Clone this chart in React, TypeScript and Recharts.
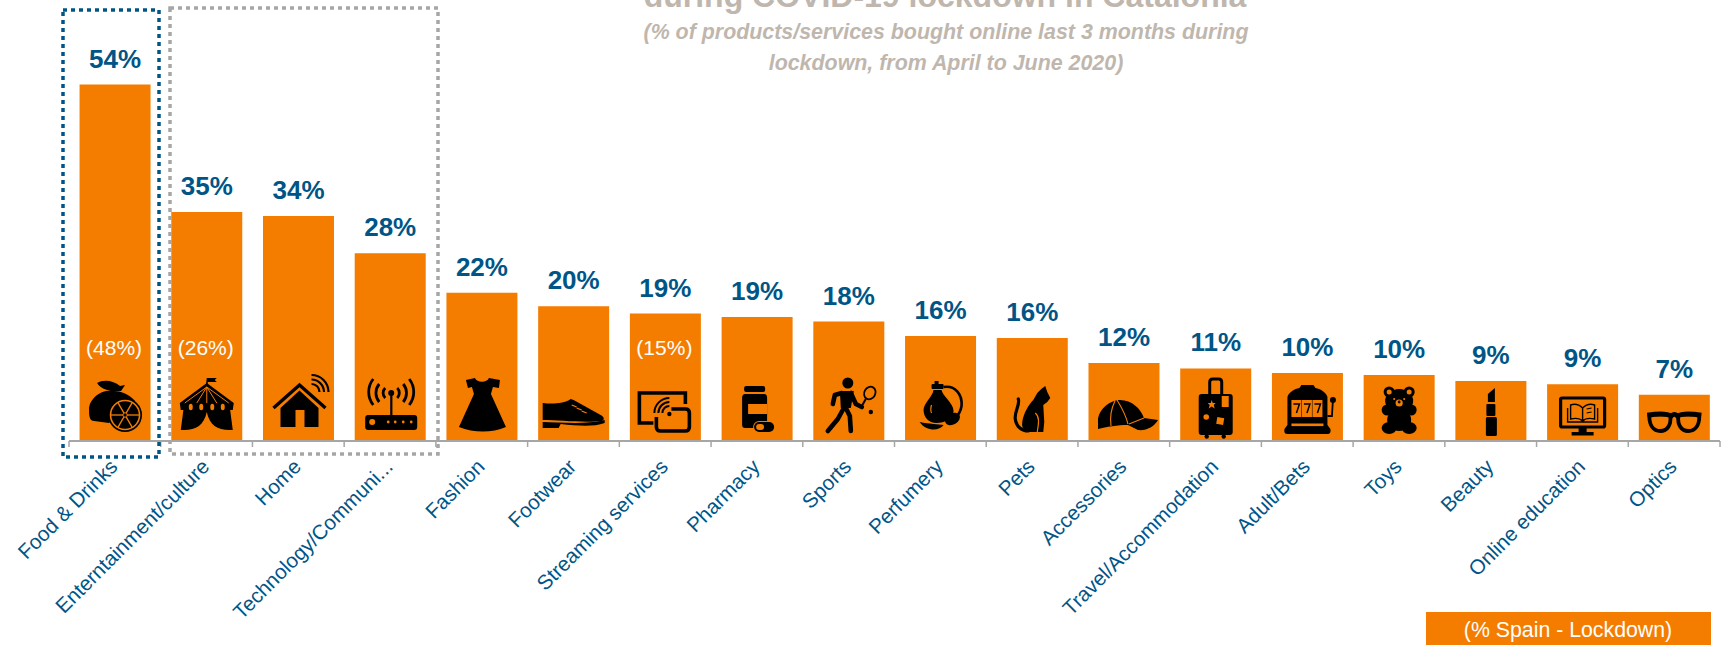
import React from "react";
import { BarChart, Bar, XAxis, YAxis, LabelList, Rectangle } from "recharts";

const categories = [
  "Food & Drinks", "Enterntainment/culture", "Home", "Technology/Communi...", "Fashion", "Footwear",
  "Streaming services", "Pharmacy", "Sports", "Perfumery", "Pets", "Accessories",
  "Travel/Accommodation", "Adult/Bets", "Toys", "Beauty", "Online education", "Optics",
];
const cataloniaLockdown = [54, 34.7, 34.1, 28.45, 22.45, 20.4, 19.3, 18.8, 18.1, 15.9, 15.6, 11.8, 11, 10.3, 10, 9.1, 8.6, 7];
const spainLockdown: (number | null)[] = [48, 26, null, null, null, null, 15, null, null, null, null, null, null, null, null, null, null, null];
const titleLine = "during COVID-19 lockdown in Catalonia";
const subtitleLines = [
  "(% of products/services bought online last 3 months during",
  "lockdown, from April to June 2020)",
];
const legendLabel = "(% Spain - Lockdown)";

const rows = categories.map((name, i) => ({ name, catalonia: cataloniaLockdown[i], spain: spainLockdown[i] }));

const ORANGE = "#F47D00";
const BLUE = "#005587";
const INK = "#000";
const FONT = "'Liberation Sans', Arial, sans-serif";

// Pictograms, drawn around the bar's centre line with y = 0 on the axis.
const lemons = () => (
  <g>
    <path d="M-9 -50 C-19 -48 -27 -39 -26 -30 C-26 -24 -25 -20 -21 -20 L-6 -18 L20 -40 C14 -47 5 -51 -9 -50Z" fill={INK} />
    <path d="M-18 -58 C-11 -62 -1 -60 5 -55 L10 -56 L6 -50 C-1 -49 -13 -50 -18 -58Z" fill={INK} />
    <circle cx={10} cy={-26} r={17} fill={INK} />
    <circle cx={10} cy={-26} r={14.5} fill={INK} stroke={ORANGE} strokeWidth={1.6} />
    {[0, 60, 120].map((a) => (
      <line key={a} x1={10 - 14 * Math.cos((a * Math.PI) / 180)} y1={-26 - 14 * Math.sin((a * Math.PI) / 180)} x2={10 + 14 * Math.cos((a * Math.PI) / 180)} y2={-26 + 14 * Math.sin((a * Math.PI) / 180)} stroke={ORANGE} strokeWidth={1.3} />
    ))}
    <circle cx={10} cy={-26} r={2.2} fill={INK} stroke={ORANGE} strokeWidth={1} />
  </g>
);
const tent = () => (
  <g>
    <path d="M0 -63 L10 -63 L8 -61 L10 -59 L1 -59 L1 -55 L-1 -55Z" fill={INK} />
    <path d="M0 -58 L-27 -38 L-26 -31 L26 -31 L27 -38Z" fill={INK} />
    <path d="M-23 -34 L-26 -11 C-12 -10 -3 -15 0 -29 C3 -15 12 -10 26 -11 L23 -34Z" fill={INK} />
    <path d="M0 -54 L-22 -38 M0 -54 L-10 -38 M0 -54 L0 -38 M0 -54 L10 -38 M0 -54 L22 -38" stroke={ORANGE} strokeWidth={1} />
    {[-16, -5.5, 5.5, 16].map((x) => (
      <ellipse key={x} cx={x} cy={-34} rx={2} ry={3.2} fill={ORANGE} />
    ))}
  </g>
);
const house = () => (
  <g>
    <path d="M-25 -33 L1 -56 L27 -33" fill="none" stroke={INK} strokeWidth={3.4} />
    <path d="M1 -50.5 L-18 -33 L-18 -14 L-3 -14 L-3 -31 L6 -31 L6 -14 L20 -14 L20 -33Z" fill={INK} />
    <path d="M13 -57 A8 8 0 0 1 21 -49 M13 -61.5 A12.5 12.5 0 0 1 25.5 -49 M13 -66 A17 17 0 0 1 30 -49" fill="none" stroke={INK} strokeWidth={2.2} />
  </g>
);
const router = () => (
  <g>
    <rect x={-25} y={-26} width={52} height={15} rx={3} fill={INK} />
    <circle cx={-18} cy={-19} r={3} fill={ORANGE} />
    {[-2, 5, 13, 21].map((x) => (
      <circle key={x} cx={x} cy={-19} r={1.4} fill={ORANGE} />
    ))}
    <rect x={0} y={-48} width={2.2} height={23} fill={INK} />
    <circle cx={1} cy={-48} r={3} fill={INK} />
    <path d="M-5 -53 A7 7 0 0 0 -5 -43 M7 -53 A7 7 0 0 1 7 -43 M-11 -57 A14 14 0 0 0 -11 -39 M13 -57 A14 14 0 0 1 13 -39 M-17 -62 A21 21 0 0 0 -17 -36 M19 -62 A21 21 0 0 1 19 -36" fill="none" stroke={INK} strokeWidth={2.8} />
  </g>
);
const dress = () => (
  <path d="M-16 -61 L-7 -63 C-5 -58 5 -58 7 -63 L18 -61 L17 -53 L11 -54 L9 -47 L24 -14 C10 -8 -8 -8 -23 -14 L-8 -47 L-10 -54 L-14 -53Z" fill={INK} />
);
const shoe = () => (
  <g>
    <path d="M-31 -38 C-22 -37 -10 -37 -3 -42 L0 -41 L27 -26 C31 -24 31 -21 28 -20 C10 -18 -15 -21 -31 -21Z" fill={INK} />
    <path d="M-31 -19 C-15 -19 10 -16 31 -21 L31 -18 C20 -14 5 -15 -13 -17 L-15 -13 L-31 -13Z" fill={INK} />
    <path d="M-2 -36 L3 -34 M3 -33 L8 -31 M8 -30 L13 -28" stroke={ORANGE} strokeWidth={1.3} />
  </g>
);
const streaming = () => (
  <g fill="none" stroke={INK} strokeWidth={3.6}>
    <path d="M-12 -18 L-26 -18 L-26 -48 L20 -48 L20 -37" />
    <path d="M6 -32 L20 -32 Q24 -32 24 -28 L24 -14 Q24 -10 20 -10 L-5 -10 Q-9 -10 -9 -14 L-9 -24" />
    <path d="M-3 -28 A7 7 0 0 1 4 -35 M-7 -28 A11 11 0 0 1 4 -39" strokeWidth={2} />
    <path d="M-11 -28 A15 15 0 0 1 4 -43" strokeWidth={2} />
    <circle cx={4} cy={-27} r={2.2} fill={INK} stroke="none" />
  </g>
);
const pills = () => (
  <g>
    <rect x={-13} y={-55} width={21} height={6} rx={2} fill={INK} />
    <path d="M-12 -47 L7 -47 Q10 -47 10 -43 L10 -13 L-12 -13 Q-15 -13 -15 -16 L-15 -43 Q-15 -47 -12 -47Z" fill={INK} />
    <rect x={-9} y={-37} width={19} height={10} fill={ORANGE} />
    <rect x={-4} y={-20} width={22} height={12} rx={6} fill={ORANGE} />
    <rect x={-3} y={-19} width={20} height={10} rx={5} fill={INK} />
    <rect x={-1} y={-17} width={8} height={6} rx={3} fill={ORANGE} />
  </g>
);
const tennis = () => (
  <g>
    <circle cx={-1} cy={-58} r={5.5} fill={INK} />
    <path d="M-9 -50 L5 -50 L2 -33 L-8 -33Z" fill={INK} />
    <path d="M-7 -48 L-14 -46 L-16 -37 M2 -48 L7 -37 L13 -34 M-5 -33 L-11 -22 L-21 -10 M-3 -33 L1 -25 L2 -10" fill="none" stroke={INK} strokeWidth={4.6} strokeLinecap="round" strokeLinejoin="round" />
    <ellipse cx={21} cy={-48} rx={5.5} ry={6.5} transform="rotate(30 21 -48)" fill="none" stroke={INK} strokeWidth={1.8} />
    <path d="M17 -42 L13 -35" stroke={INK} strokeWidth={2} />
    <circle cx={22} cy={-29} r={2.2} fill={INK} />
  </g>
);
const perfume = () => (
  <g>
    <rect x={-9} y={-57} width={12} height={5} rx={1} fill={INK} />
    <rect x={-6} y={-60} width={4} height={4} fill={INK} />
    <path d="M-7 -51 L1 -51 C2 -45 13 -38 13 -30 C13 -22 4 -18 -4 -18 C-12 -18 -17 -24 -17 -31 C-17 -38 -8 -44 -7 -51Z" fill={INK} />
    <path d="M-9 -36 C-10 -33 -10 -30 -9 -28" stroke={ORANGE} strokeWidth={1.2} fill="none" />
    <path d="M3 -54 C15 -56 22 -46 21 -35 C20 -29 17 -25 14 -23" fill="none" stroke={INK} strokeWidth={2.6} />
    <ellipse cx={12} cy={-22} rx={8} ry={5.5} transform="rotate(-30 12 -22)" fill={INK} />
    <path d="M-21 -19 C-11 -17 -2 -17 3 -16 C-1 -10 -14 -9 -21 -19Z" fill={INK} />
  </g>
);
const cat = () => (
  <g>
    <path d="M5 -48 L9 -52 L13 -55 L15 -49 L18 -43 L15 -39 L11 -36 L12 -19 L11 -9 L-2 -9 C-8 -9 -11 -13 -10 -19 C-9 -27 -4 -36 1 -41Z" fill={INK} />
    <path d="M-14 -42 C-12 -36 -18 -30 -17 -22 C-16 -14 -10 -10 -4 -10" fill="none" stroke={INK} strokeWidth={3.2} strokeLinecap="round" />
    <path d="M3 -28 C8 -24 6 -16 5 -9" fill="none" stroke={ORANGE} strokeWidth={1.2} />
  </g>
);
const cap = () => (
  <g>
    <path d="M-26 -12 L-26 -22 C-24 -34 -12 -41 -4 -41 C8 -41 17 -32 20 -23 L34 -21 C30 -14 22 -10 14 -11 L4 -16 C-6 -16 -18 -14 -26 -12Z" fill={INK} />
    <path d="M-9 -40 C-13 -32 -14 -22 -13 -15 M-7 -41 C-2 -33 2 -25 4 -17 M5 -17 L20 -23" fill="none" stroke={ORANGE} strokeWidth={1.1} />
  </g>
);
const suitcase = () => (
  <g>
    <path d="M-6 -47 L-6 -59 Q-6 -62 -3 -62 L3 -62 Q6 -62 6 -59 L6 -47" fill="none" stroke={INK} strokeWidth={3} />
    <rect x={-17} y={-47} width={34} height={41} rx={3} fill={INK} />
    <circle cx={-9} cy={-4.5} r={2.2} fill={INK} />
    <circle cx={8} cy={-4.5} r={2.2} fill={INK} />
    <rect x={6} y={-45} width={7} height={11} fill={ORANGE} />
    <path d="M-4 -41 L-3 -38 L0 -38 L-2 -36 L-1 -32.5 L-4 -34.5 L-7 -32.5 L-6 -36 L-8 -38 L-5 -38Z" fill={ORANGE} />
    <circle cx={-9.5} cy={-24} r={2.8} fill={ORANGE} />
    <rect x={1} y={-23.5} width={7} height={7} transform="rotate(10 4.5 -20)" fill={ORANGE} />
  </g>
);
const slots = () => (
  <g>
    <path d="M-6 -56 L6 -56 L8 -53 C14 -52 19 -48 20 -44 L20 -16 L23 -12 Q24 -7 20 -7 L-20 -7 Q-24 -7 -23 -12 L-20 -16 L-20 -44 C-19 -48 -14 -52 -8 -53Z" fill={INK} />
    {[-16, -5.5, 5].map((x) => (
      <g key={x}>
        <rect x={x} y={-41} width={10} height={17} fill={ORANGE} />
        <path d={`M${x + 2} -37 L${x + 8} -37 L${x + 5} -28`} fill="none" stroke={INK} strokeWidth={1.5} />
      </g>
    ))}
    <rect x={-16} y={-17.5} width={32} height={2.6} fill={ORANGE} />
    <circle cx={25.5} cy={-41} r={3} fill={INK} />
    <path d="M25.5 -41 L24.5 -25 L20 -25" fill="none" stroke={INK} strokeWidth={1.8} />
  </g>
);
const teddy = () => (
  <g>
    <circle cx={-10} cy={-49} r={5.5} fill={INK} />
    <circle cx={10} cy={-49} r={5.5} fill={INK} />
    <ellipse cx={0} cy={-40} rx={14} ry={12} fill={INK} />
    <ellipse cx={0} cy={-21} rx={12} ry={11} fill={INK} />
    <circle cx={-12} cy={-31} r={5.5} fill={INK} />
    <circle cx={12} cy={-31} r={5.5} fill={INK} />
    <ellipse cx={-10} cy={-13} rx={7.5} ry={6} fill={INK} />
    <ellipse cx={10} cy={-13} rx={7.5} ry={6} fill={INK} />
    <circle cx={-10} cy={-49} r={2.5} fill={ORANGE} />
    <circle cx={10} cy={-49} r={2.5} fill={ORANGE} />
    <circle cx={-5} cy={-42} r={1} fill={ORANGE} />
    <circle cx={5} cy={-42} r={1} fill={ORANGE} />
    <circle cx={0} cy={-38} r={3.6} fill={ORANGE} />
    <circle cx={0} cy={-39} r={1.4} fill={INK} />
  </g>
);
const lipstick = () => (
  <g>
    <path d="M-3 -47 L4 -53 L4 -39 L-3 -39Z" fill={INK} />
    <rect x={-4.5} y={-37} width={9} height={12} rx={1} fill={INK} />
    <rect x={-5} y={-24} width={11} height={19} rx={1.5} fill={INK} />
  </g>
);
const onlineBook = () => (
  <g>
    <rect x={-22} y={-43} width={44} height={29} rx={1.5} fill="none" stroke={INK} strokeWidth={3.2} />
    <rect x={-4} y={-13} width={8} height={5} fill={INK} />
    <rect x={-11} y={-9} width={22} height={3.5} fill={INK} />
    <path d="M0 -33 C-4 -37 -9 -37 -12 -36 L-12 -22 C-8 -23 -3 -23 0 -20 C3 -23 8 -23 12 -22 L12 -36 C9 -37 4 -37 0 -33Z M0 -33 L0 -20 M-15 -33 L-15 -19 L15 -19 L15 -33" fill="none" stroke={INK} strokeWidth={1.4} />
    <path d="M4 -32 L9 -33 M4 -28 L9 -29" stroke={INK} strokeWidth={1.2} />
  </g>
);
const glasses = () => (
  <g fill="none" stroke={INK} strokeWidth={3.8}>
    <path d="M-25 -25 C-20 -27 -8 -27 -4 -25 C-3 -16 -7 -10 -14 -10 C-21 -10 -25 -16 -25 -25Z" />
    <path d="M25 -25 C20 -27 8 -27 4 -25 C3 -16 7 -10 14 -10 C21 -10 25 -16 25 -25Z" />
    <path d="M-27 -26 C-15 -28 -6 -27 -3 -25 C-1 -27 1 -27 3 -25 C6 -27 15 -28 27 -26" strokeWidth={4.6} />
  </g>
);

const pictograms = [
  lemons, tent, house, router, dress, shoe, streaming, pills, tennis,
  perfume, cat, cap, suitcase, slots, teddy, lipstick, onlineBook, glasses,
];

// Orange column with its pictogram standing on the axis.
const IconBar = (props: any) => {
  const { x, y, width, height, index } = props;
  const Icon = pictograms[index];
  return (
    <g>
      <Rectangle x={x} y={y} width={width} height={height} fill={ORANGE} />
      <g transform={`translate(${x + width / 2}, ${y + height})`}>
        <Icon />
      </g>
    </g>
  );
};

// Spain's figure sits at a constant height above the axis, whatever the bar's height.
const SpainLabel = (props: any) => {
  const { x, y, width, height, value } = props;
  if (value === null || value === undefined) return null;
  return (
    <text x={x + width / 2 - 1} y={y + height - 86} textAnchor="middle" fill="#fff" fontFamily={FONT} fontSize={21}>
      {`(${value}%)`}
    </text>
  );
};

// Rotated category name, plus the axis tick at the band's left edge (and right edge for the last band).
const CategoryTick = (props: any) => {
  const { x, y, payload, index } = props;
  const half = 45.86;
  return (
    <g>
      <line x1={x - half} x2={x - half} y1={y - 8} y2={y - 2} stroke="#A6A6A6" strokeWidth={1.5} />
      {index === categories.length - 1 && (
        <line x1={x + half} x2={x + half} y1={y - 8} y2={y - 2} stroke="#A6A6A6" strokeWidth={1.5} />
      )}
      <text x={x + 4} y={y + 19} textAnchor="end" fill={BLUE} fontFamily={FONT} fontSize={20.6} transform={`rotate(-45 ${x + 4} ${y + 19})`}>
        {payload.value}
      </text>
    </g>
  );
};

export default function App() {
  return (
    <div style={{ position: "absolute", left: 0, top: 0, width: 1721, height: 645, overflow: "hidden", background: "#fff" }}>
      <BarChart width={1721} height={645} data={rows} margin={{ top: 45, right: 1, bottom: 0, left: 69 }} barCategoryGap="11.5%">
        <XAxis
          dataKey="name"
          interval={0}
          height={204}
          axisLine={{ stroke: "#A6A6A6", strokeWidth: 2 }}
          tickLine={false}
          tick={<CategoryTick />}
        />
        <YAxis hide domain={[0, 60]} />
        <Bar dataKey="catalonia" isAnimationActive={false} shape={<IconBar />}>
          <LabelList
            dataKey="catalonia"
            position="top"
            offset={17}
            formatter={(v: any) => `${Math.round(v)}%`}
            fill={BLUE}
            fontFamily={FONT}
            fontWeight="bold"
            fontSize={26}
          />
          <LabelList dataKey="spain" content={<SpainLabel />} />
        </Bar>
      </BarChart>
      <svg width={1721} height={645} style={{ position: "absolute", left: 0, top: 0, pointerEvents: "none" }}>
        <text x={945} y={7} textAnchor="middle" fill="#BFB7AE" fontFamily={FONT} fontWeight="bold" fontSize={32}>{titleLine}</text>
        {subtitleLines.map((line, i) => (
          <text key={line} x={946} y={39 + i * 30.5} textAnchor="middle" fill="#BFB7AE" fontFamily={FONT} fontWeight="bold" fontStyle="italic" fontSize={21.4}>{line}</text>
        ))}
        <rect x={63} y={10} width={96} height={447} fill="none" stroke={BLUE} strokeWidth={3.5} strokeDasharray="4 4" />
        <rect x={170} y={8} width={268} height={446} fill="none" stroke="#A6A6A6" strokeWidth={3.5} strokeDasharray="4 4" />
        <rect x={1426} y={612} width={285} height={33} fill={ORANGE} />
        <text x={1568} y={637} textAnchor="middle" fill="#fff" fontFamily={FONT} fontSize={21.3}>{legendLabel}</text>
      </svg>
    </div>
  );
}
